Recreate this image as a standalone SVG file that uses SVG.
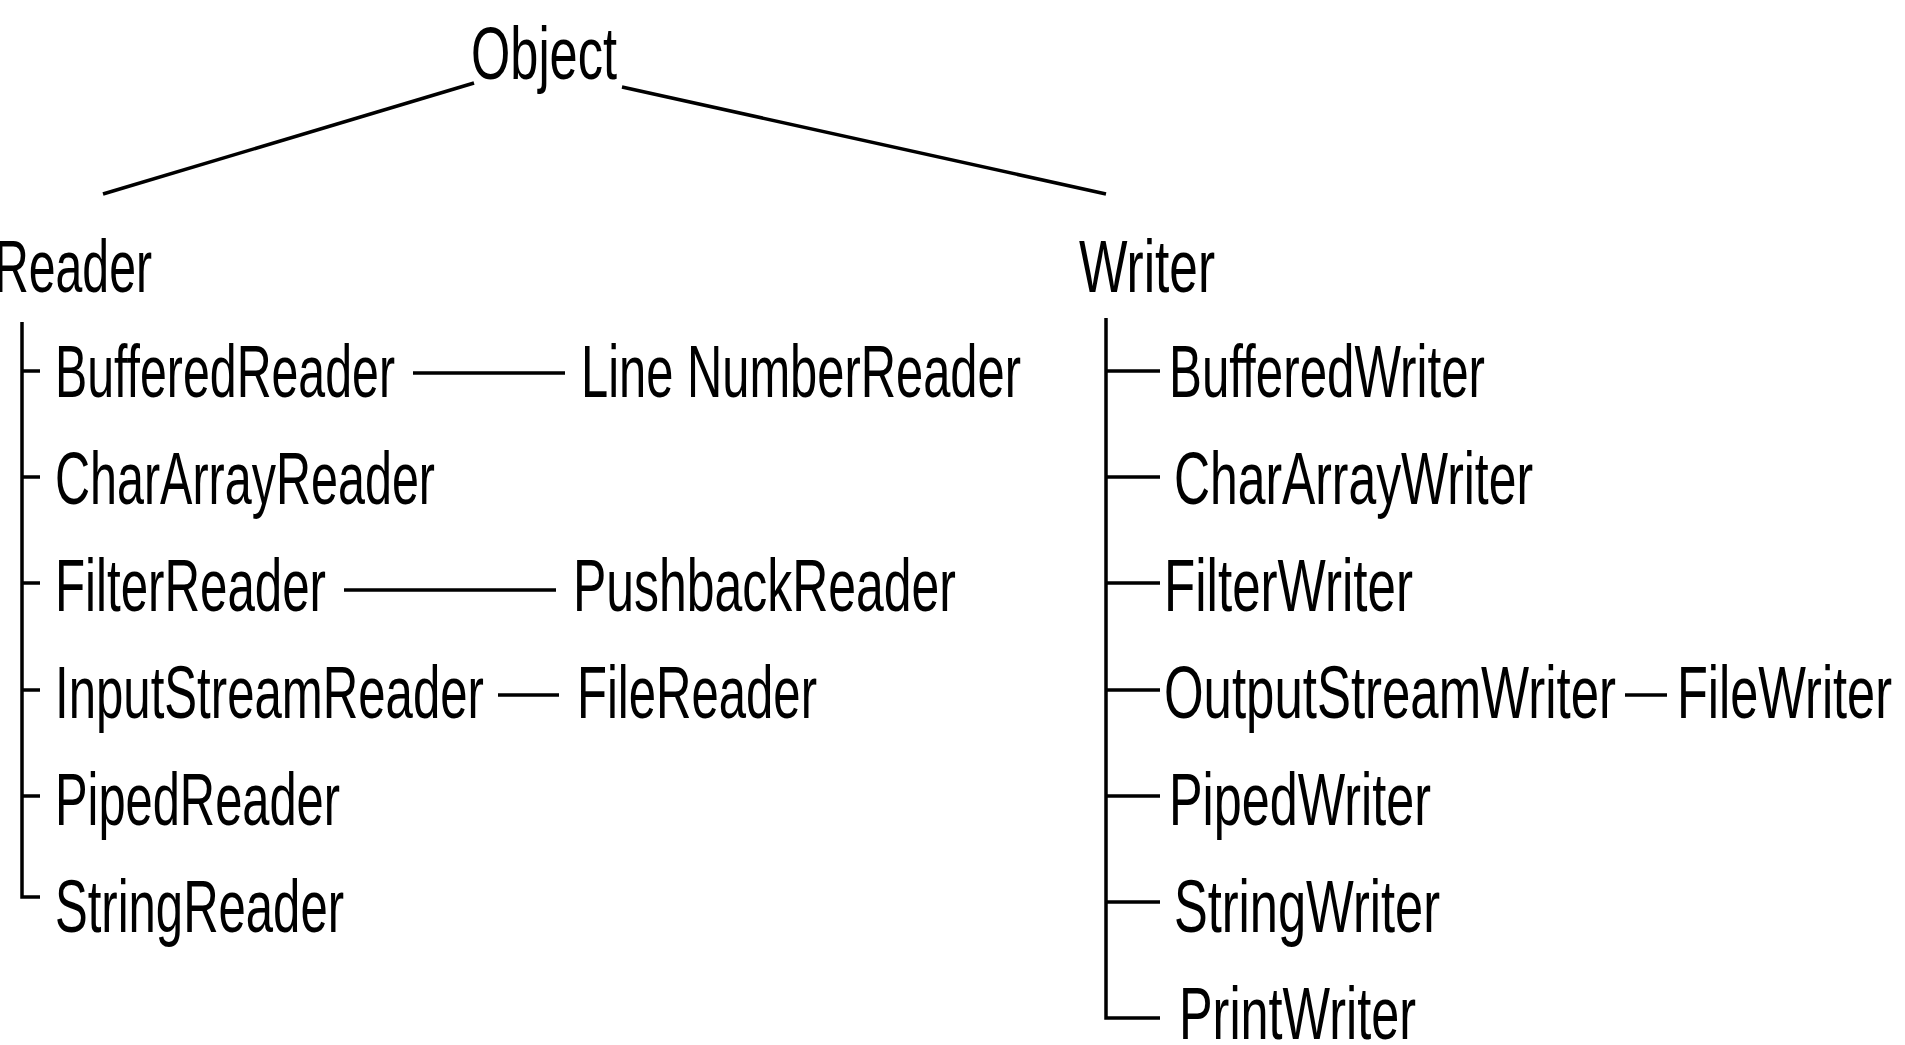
<svg xmlns="http://www.w3.org/2000/svg" width="1905" height="1045" viewBox="0 0 1905 1045">
<style>
text{font-family:"Liberation Sans",Arial,sans-serif;font-size:74px;fill:#000}
.c{stroke:#000;stroke-width:3.5;fill:none}
</style>
<rect width="1905" height="1045" fill="#fff"/>
<g id="connectors">
<path class="c" d="M474,83 L103,194"/>
<path class="c" d="M622,87 L1106,194"/>
<path class="c" d="M22,322 V897 H40"/>
<path class="c" d="M22,371 H40 M22,477 H40 M22,583 H40 M22,690 H40 M22,796 H40"/>
<path class="c" d="M413,373 H565 M344,590 H556 M498,695 H559"/>
<path class="c" d="M1106,318 V1018 H1160"/>
<path class="c" d="M1106,371 H1160 M1106,477 H1160 M1106,583 H1160 M1106,690 H1160 M1106,796 H1160 M1106,902 H1160"/>
<path class="c" d="M1625,695 H1667"/>
</g>
<g id="Object"><text x="471" y="79" textLength="146" lengthAdjust="spacingAndGlyphs">Object</text></g>
<g id="Reader"><text x="-6" y="292" textLength="158" lengthAdjust="spacingAndGlyphs">Reader</text></g>
<g id="Writer"><text x="1079" y="292" textLength="136" lengthAdjust="spacingAndGlyphs">Writer</text></g>
<g id="BufferedReader"><text x="55" y="397" textLength="340" lengthAdjust="spacingAndGlyphs">BufferedReader</text></g>
<g id="LineNumberReader"><text x="581" y="397" textLength="440" lengthAdjust="spacingAndGlyphs">Line NumberReader</text></g>
<g id="CharArrayReader"><text x="55" y="504" textLength="380" lengthAdjust="spacingAndGlyphs">CharArrayReader</text></g>
<g id="FilterReader"><text x="55" y="611" textLength="271" lengthAdjust="spacingAndGlyphs">FilterReader</text></g>
<g id="PushbackReader"><text x="573" y="611" textLength="383" lengthAdjust="spacingAndGlyphs">PushbackReader</text></g>
<g id="InputStreamReader"><text x="55" y="718" textLength="429" lengthAdjust="spacingAndGlyphs">InputStreamReader</text></g>
<g id="FileReader"><text x="577" y="718" textLength="240" lengthAdjust="spacingAndGlyphs">FileReader</text></g>
<g id="PipedReader"><text x="55" y="825" textLength="285" lengthAdjust="spacingAndGlyphs">PipedReader</text></g>
<g id="StringReader"><text x="55" y="932" textLength="289" lengthAdjust="spacingAndGlyphs">StringReader</text></g>
<g id="BufferedWriter"><text x="1169" y="397" textLength="316" lengthAdjust="spacingAndGlyphs">BufferedWriter</text></g>
<g id="CharArrayWriter"><text x="1174" y="504" textLength="359" lengthAdjust="spacingAndGlyphs">CharArrayWriter</text></g>
<g id="FilterWriter"><text x="1164" y="611" textLength="249" lengthAdjust="spacingAndGlyphs">FilterWriter</text></g>
<g id="OutputStreamWriter"><text x="1164" y="718" textLength="452" lengthAdjust="spacingAndGlyphs">OutputStreamWriter</text></g>
<g id="FileWriter"><text x="1677" y="718" textLength="215" lengthAdjust="spacingAndGlyphs">FileWriter</text></g>
<g id="PipedWriter"><text x="1169" y="825" textLength="262" lengthAdjust="spacingAndGlyphs">PipedWriter</text></g>
<g id="StringWriter"><text x="1174" y="932" textLength="266" lengthAdjust="spacingAndGlyphs">StringWriter</text></g>
<g id="PrintWriter"><text x="1179" y="1039" textLength="237" lengthAdjust="spacingAndGlyphs">PrintWriter</text></g>
</svg>
